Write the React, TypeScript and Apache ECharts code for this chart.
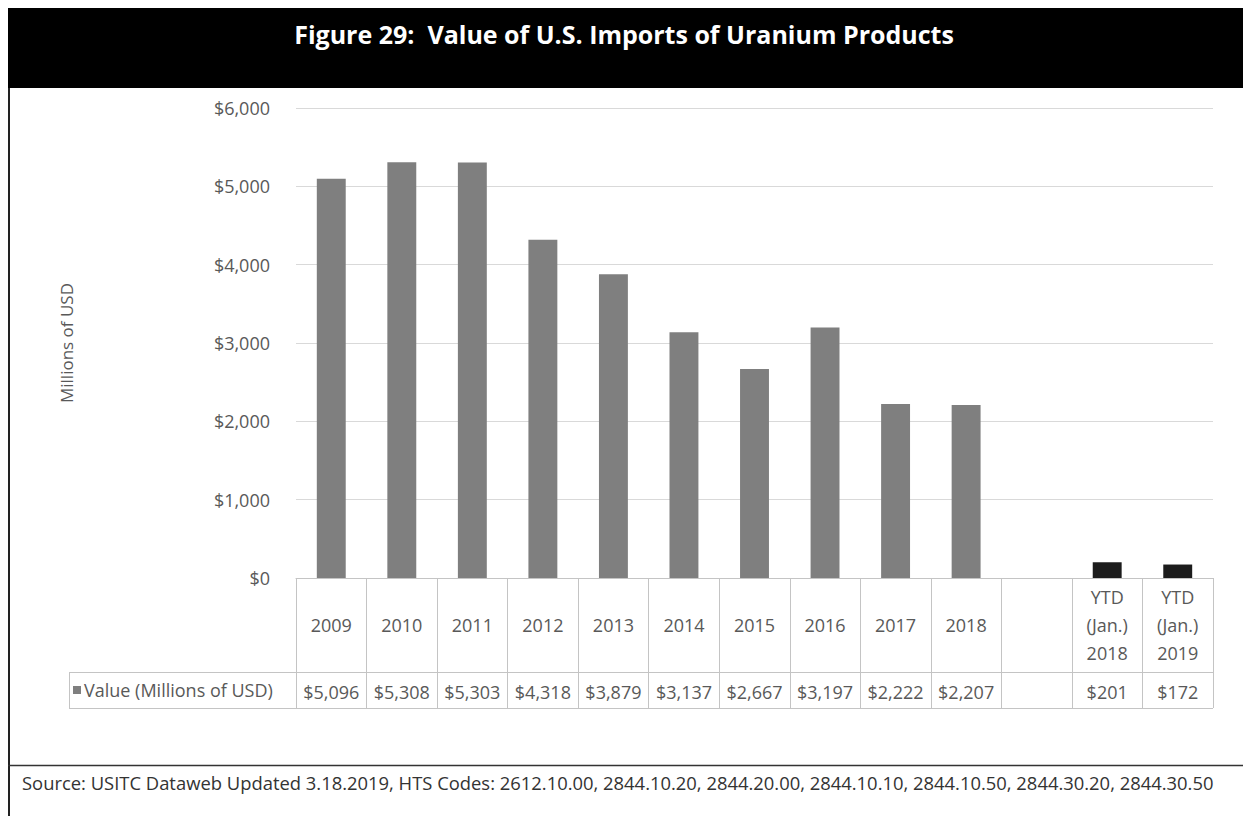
import React, { useEffect, useRef } from "react";
import * as echarts from "echarts";

const TITLE = "Figure 29:  Value of U.S. Imports of Uranium Products";
const SOURCE =
  "Source: USITC Dataweb Updated 3.18.2019, HTS Codes: 2612.10.00, 2844.10.20, 2844.20.00, 2844.10.10, 2844.10.50, 2844.30.20, 2844.30.50";
const SERIES_NAME = "Value (Millions of USD)";
const Y_NAME = "Millions of USD";

const CATEGORIES = [
  "2009",
  "2010",
  "2011",
  "2012",
  "2013",
  "2014",
  "2015",
  "2016",
  "2017",
  "2018",
  "",
  "YTD\n(Jan.)\n2018",
  "YTD\n(Jan.)\n2019",
];
const VALUES: (number | null)[] = [
  5096, 5308, 5303, 4318, 3879, 3137, 2667, 3197, 2222, 2207, null, 201, 172,
];
const IS_YTD = [
  false, false, false, false, false, false, false, false, false, false, false, true, true,
];
const Y_MIN = 0;
const Y_MAX = 6000;
const Y_INTERVAL = 1000;

const FONT = '"Open Sans", sans-serif';
const GRAY_BAR = "#7f7f7f";
const DARK_BAR = "#1c1c1c";
const TEXT_GRAY = "#595959";
const TABLE_LINE = "#c4c4c4";

// layout
const W = 1243;
const H = 816;
const GRID_LEFT = 296;
const GRID_RIGHT_X = 1213;
const GRID_TOP = 108;
const GRID_BOTTOM_Y = 578;
const ROW1_BOTTOM = 672;
const ROW2_BOTTOM = 708;
const LEGEND_CELL_LEFT = 69;

const fmtMoney = (v: number) => "$" + v.toLocaleString("en-US");

export default function App() {
  const ref = useRef<HTMLDivElement>(null);
  useEffect(() => {
    if (!ref.current) return;
    const chart = echarts.init(ref.current, null, { renderer: "svg" });
    const valueLabels = VALUES.map((v) => (v == null ? "" : fmtMoney(v)));
    chart.setOption({
      animation: false,
      backgroundColor: "#ffffff",
      textStyle: { fontFamily: FONT },
      grid: {
        left: GRID_LEFT,
        right: W - GRID_RIGHT_X,
        top: GRID_TOP,
        bottom: H - GRID_BOTTOM_Y,
        containLabel: false,
        outerBoundsMode: "none",
      },
      legend: {
        show: true,
        data: [SERIES_NAME],
        left: LEGEND_CELL_LEFT + 4,
        top: 681,
        padding: 0,
        icon: "rect",
        itemWidth: 8,
        itemHeight: 8,
        itemGap: 4,
        textStyle: { fontSize: 18, color: TEXT_GRAY, fontFamily: FONT, padding: [0, 0, 0, -2] },
      },
      xAxis: [
        {
          type: "category",
          data: CATEGORIES,
          boundaryGap: true,
          position: "bottom",
          axisLine: { show: true, lineStyle: { color: TABLE_LINE, width: 1 } },
          axisTick: {
            show: true,
            interval: 0,
            length: ROW2_BOTTOM - GRID_BOTTOM_Y,
            lineStyle: { color: TABLE_LINE, width: 1 },
          },
          axisLabel: {
            interval: 0,
            margin: 47,
            verticalAlign: "middle",
            lineHeight: 28,
            fontSize: 18,
            color: TEXT_GRAY,
            fontFamily: FONT,
          },
          splitLine: { show: false },
        },
        {
          type: "category",
          data: valueLabels,
          boundaryGap: true,
          position: "bottom",
          axisLine: { show: false },
          axisTick: { show: false },
          axisLabel: {
            interval: 0,
            margin: 114,
            verticalAlign: "middle",
            fontSize: 18,
            color: TEXT_GRAY,
            fontFamily: FONT,
          },
          splitLine: { show: false },
        },
      ],
      yAxis: {
        type: "value",
        min: Y_MIN,
        max: Y_MAX,
        interval: Y_INTERVAL,
        name: Y_NAME,
        nameLocation: "middle",
        nameGap: 221,
        nameRotate: 90,
        nameTextStyle: { fontSize: 17, color: TEXT_GRAY, fontFamily: FONT },
        axisLine: { show: false },
        axisTick: { show: false },
        axisLabel: {
          margin: 26,
          fontSize: 18,
          color: TEXT_GRAY,
          fontFamily: FONT,
          formatter: (v: number) => fmtMoney(v),
        },
        splitLine: { show: true, lineStyle: { color: "#d9d9d9", width: 1 } },
      },
      series: [
        {
          name: SERIES_NAME,
          type: "bar",
          xAxisIndex: 0,
          barWidth: "41%",
          itemStyle: { color: GRAY_BAR },
          data: VALUES.map((v, i) => ({
            value: v,
            itemStyle: { color: IS_YTD[i] ? DARK_BAR : GRAY_BAR },
          })),
        },
      ],
      graphic: [
        {
          type: "rect",
          shape: { x: 8, y: 8, width: W - 8, height: 80 },
          style: { fill: "#000000" },
          silent: true,
        },
        {
          type: "text",
          x: 624,
          y: 34,
          style: {
            text: TITLE,
            fill: "#ffffff",
            fontSize: 25,
            fontWeight: "bold",
            fontFamily: FONT,
            align: "center",
            verticalAlign: "middle",
          },
          silent: true,
        },
        {
          type: "line",
          shape: { x1: 9, y1: 88, x2: 9, y2: H },
          style: { stroke: "#222222", lineWidth: 2 },
          silent: true,
        },
        {
          type: "line",
          shape: { x1: 8, y1: 765.5, x2: W, y2: 765.5 },
          style: { stroke: "#333333", lineWidth: 1.5 },
          silent: true,
        },
        {
          type: "text",
          x: 22,
          y: 782,
          style: {
            text: SOURCE,
            fill: "#333333",
            fontSize: 18.4,
            fontFamily: FONT,
            align: "left",
            verticalAlign: "middle",
          },
          silent: true,
        },
        {
          type: "line",
          shape: { x1: LEGEND_CELL_LEFT, y1: ROW1_BOTTOM + 0.5, x2: GRID_RIGHT_X, y2: ROW1_BOTTOM + 0.5 },
          style: { stroke: TABLE_LINE, lineWidth: 1 },
          silent: true,
        },
        {
          type: "line",
          shape: { x1: LEGEND_CELL_LEFT, y1: ROW2_BOTTOM + 0.5, x2: GRID_RIGHT_X, y2: ROW2_BOTTOM + 0.5 },
          style: { stroke: TABLE_LINE, lineWidth: 1 },
          silent: true,
        },
        {
          type: "line",
          shape: { x1: LEGEND_CELL_LEFT + 0.5, y1: ROW1_BOTTOM, x2: LEGEND_CELL_LEFT + 0.5, y2: ROW2_BOTTOM + 1 },
          style: { stroke: TABLE_LINE, lineWidth: 1 },
          silent: true,
        },
      ],
    });
    return () => chart.dispose();
  }, []);
  return (
    <div
      ref={ref}
      style={{ position: "absolute", left: 0, top: 0, width: W, height: H }}
    />
  );
}
